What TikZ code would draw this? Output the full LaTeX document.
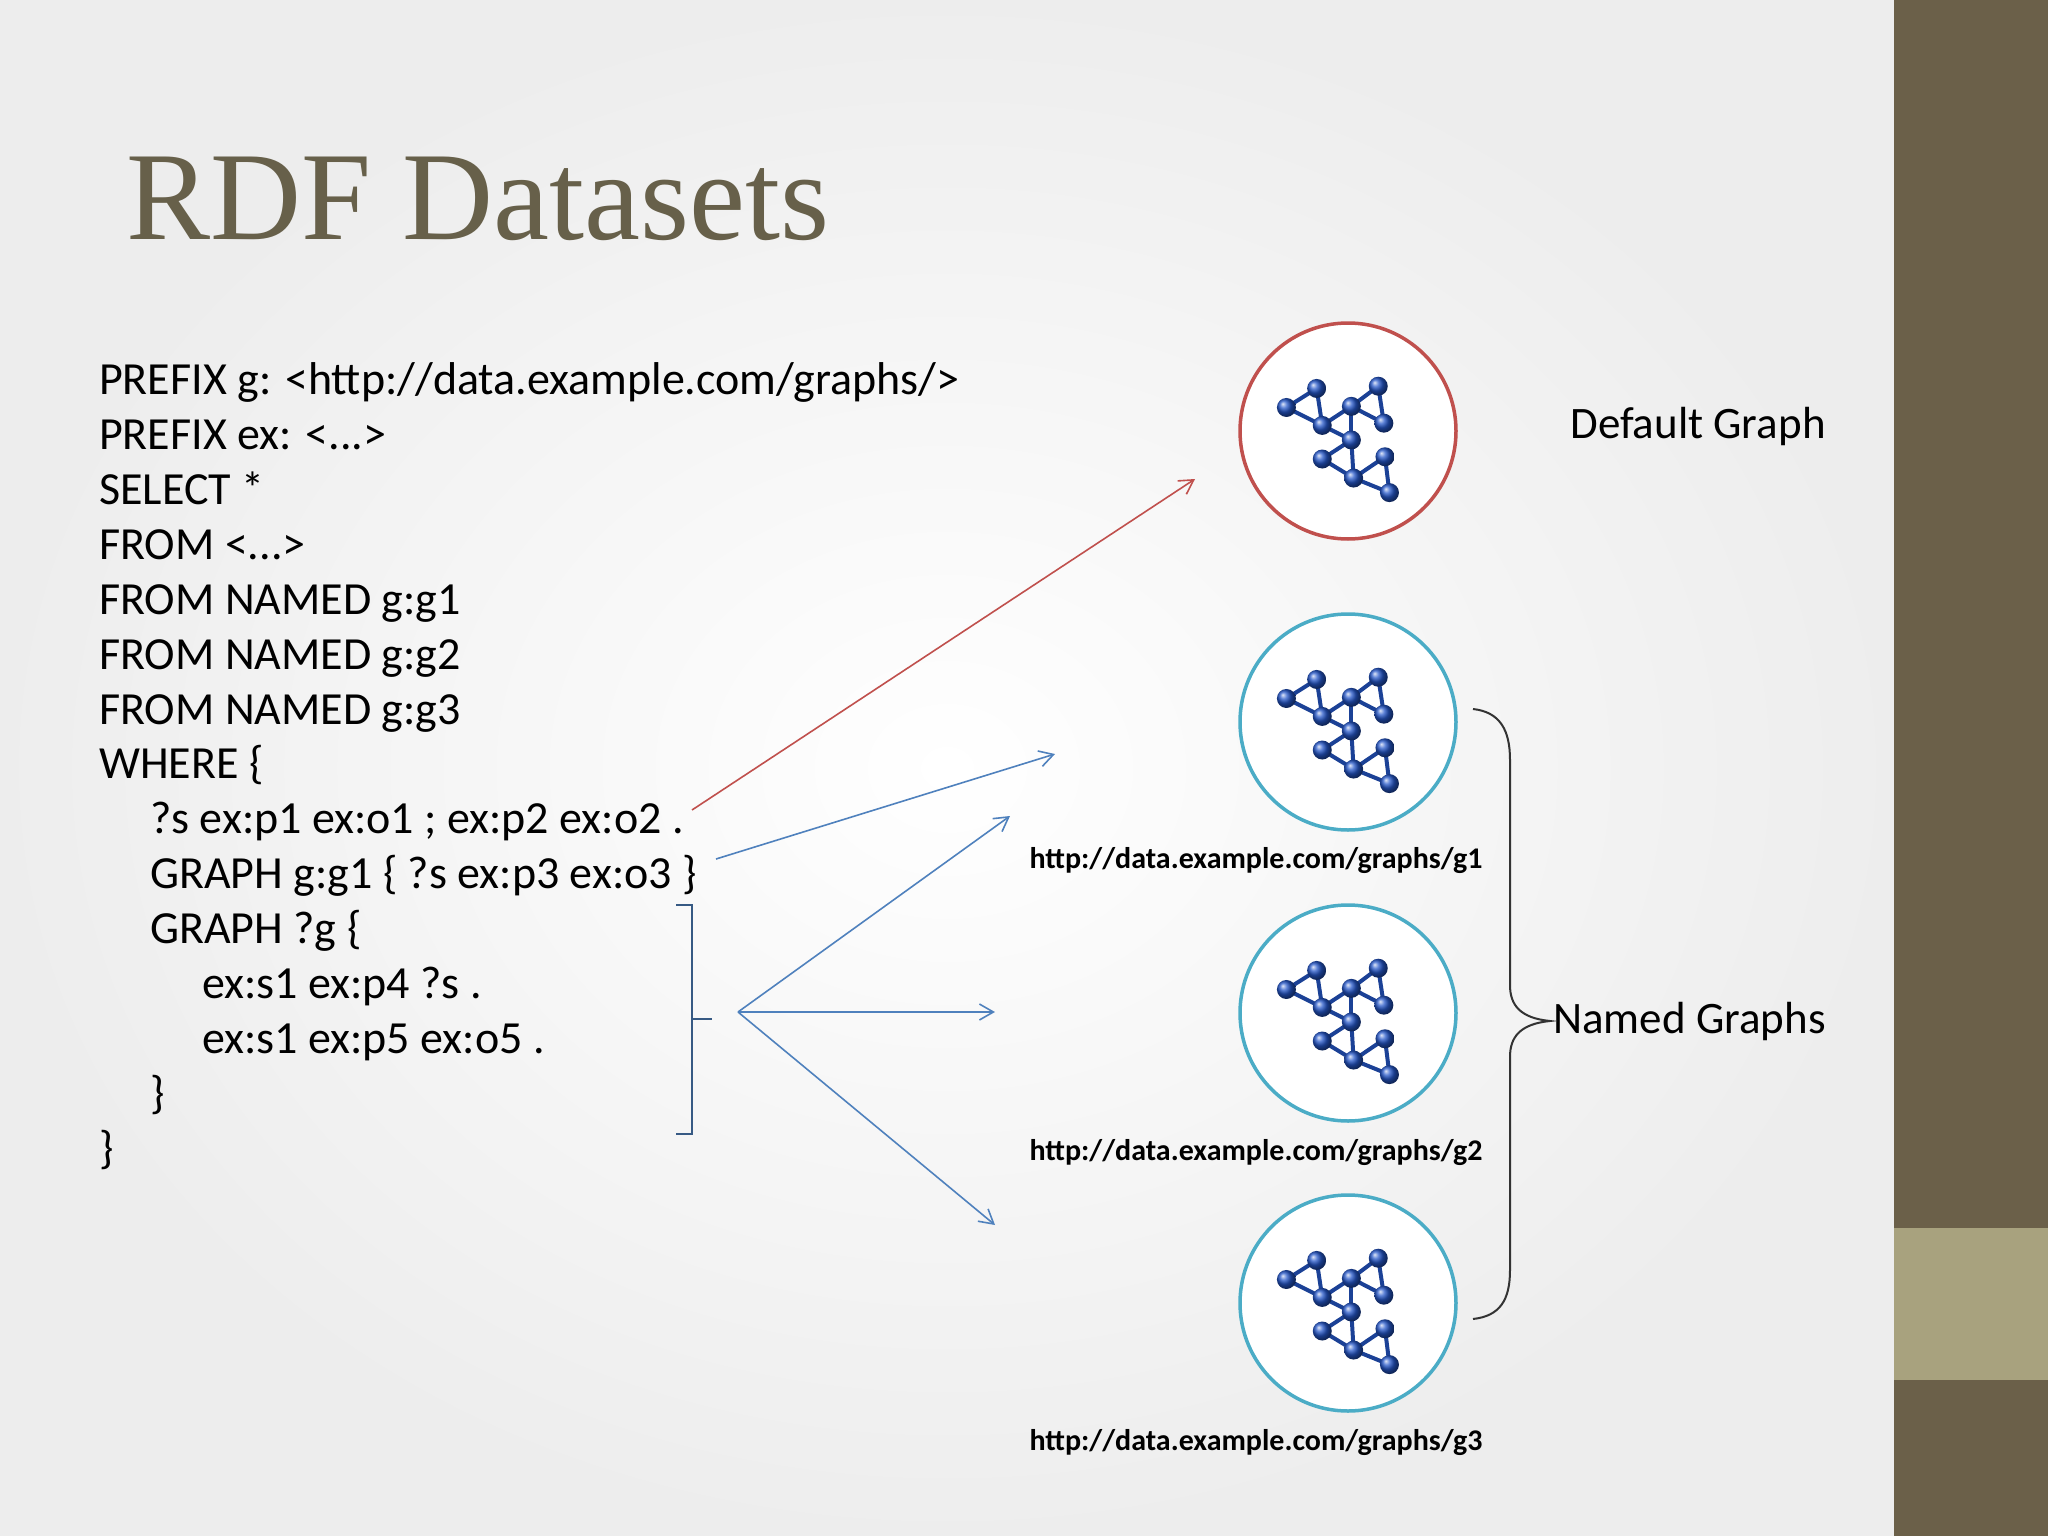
\documentclass[tikz,border=0pt]{standalone}
\usepackage{fontspec}
\setmainfont{Carlito}
\newfontfamily\titlefont{Liberation Serif}
\usetikzlibrary{arrows.meta,calc}
\definecolor{olive}{HTML}{6B6049}
\definecolor{oliveL}{HTML}{A8A27E}
\definecolor{titlec}{HTML}{67604A}
\definecolor{redc}{HTML}{C0504D}
\definecolor{tealc}{HTML}{4BACC6}
\definecolor{arrred}{HTML}{C0504D}
\definecolor{arrblue}{HTML}{4F81BD}
\definecolor{molb}{HTML}{2456C8}
\tikzset{
  code/.style={anchor=base west,font=\fontsize{46}{52}\selectfont,inner sep=0},
  url/.style={anchor=base,font=\bfseries\fontsize{30}{34}\selectfont,inner sep=0},
  lbl/.style={font=\fontsize{45}{50}\selectfont,inner sep=0},
  ring/.style={circle,minimum size=216pt,line width=3.5pt,inner sep=0,fill=white},
  arr/.style={line width=1.6pt,-{Straight Barb[length=14pt,width=16pt]}},
  mol/.pic={
    \foreach \a/\b in {A/B,B/C,A/C,D/E,E/F,D/F,C/G,E/G,C/E,G/H,H/I,G/I,I/J,J/K,I/K}
      \draw[molb!75!black,line width=4pt] (m\a) -- (m\b);
    \foreach \n in {A,B,C,D,E,F,G,H,I,J,K}
      \shade[ball color=molb] (m\n) circle (9.5pt);
  }
}
\begin{document}
\begin{tikzpicture}[x=1pt,y=-1pt]
\useasboundingbox (0,0) rectangle (2048,1536);
\shade[inner color=white,outer color=black!7] (0,0) rectangle (1894,1536);
\fill[olive] (1894,0) rectangle (2048,1536);
\fill[oliveL] (1894,1228) rectangle (2048,1380);
\node[anchor=base west,inner sep=0,text=titlec,font=\titlefont\fontsize{126}{140}\selectfont] (title) at (126,239) {RDF Datasets};
% code
\node[code] (l1) at (99,394) {PREFIX g: <http://data.example.com/graphs/>};
\node[code] (l2) at (99,449) {PREFIX ex: <...>};
\node[code] (l3) at (99,504) {SELECT *};
\node[code] (l4) at (99,559) {FROM <...>};
\node[code] (l5) at (99,614) {FROM NAMED g:g1};
\node[code] (l6) at (99,669) {FROM NAMED g:g2};
\node[code] (l7) at (99,724) {FROM NAMED g:g3};
\node[code] (l8) at (99,778) {WHERE \{};
\node[code] (l9) at (150,833) {?s ex:p1 ex:o1 ; ex:p2 ex:o2 .};
\node[code] (l10) at (150,888) {GRAPH g:g1 \{ ?s ex:p3 ex:o3 \}};
\node[code] (l11) at (150,943) {GRAPH ?g \{};
\node[code] (l12) at (202,998) {ex:s1 ex:p4 ?s .};
\node[code] (l13) at (202,1053) {ex:s1 ex:p5 ex:o5 .};
\node[code] (l14) at (150,1108) {\}};
\node[code] (l15) at (99,1163) {\}};
% circles
\foreach \n/\y/\c in {dg/431/redc,g1/722/tealc,g2/1013/tealc,g3/1303/tealc}{
  \node[ring,draw=\c] (\n) at (1348,\y) {};
  \begin{scope}[shift={(1348,\y)},scale=1.12]
    \coordinate (mA) at (-28,-38); \coordinate (mB) at (-55,-21);
    \coordinate (mC) at (-23,-5);  \coordinate (mD) at (27,-40);
    \coordinate (mE) at (3,-22);   \coordinate (mF) at (32,-7);
    \coordinate (mG) at (3,8);     \coordinate (mH) at (-23,25);
    \coordinate (mI) at (5,42);    \coordinate (mJ) at (33,23);
    \coordinate (mK) at (37,55);
    \pic {mol};
  \end{scope}
}
\node[url] (u1) at (1256,868) {http://data.example.com/graphs/g1};
\node[url] (u2) at (1256,1160) {http://data.example.com/graphs/g2};
\node[url] (u3) at (1256,1450) {http://data.example.com/graphs/g3};
\node[lbl] (dgl) at (1698,426) {Default Graph};
\node[lbl,anchor=west] (ngl) at (1553,1021) {Named Graphs};
% right brace
\coordinate (rbT) at (1473,709);
\coordinate (rbB) at (1473,1319);
\coordinate (rbM) at (1550,1021);
\draw[line width=2pt,black!80] (rbT) .. controls (1500,712) and (1510,730) .. (1510,760)
  -- (1510,985) .. controls (1510,1005) and (1520,1018) .. (rbM)
  .. controls (1520,1024) and (1510,1037) .. (1510,1057)
  -- (1510,1270) .. controls (1510,1300) and (1500,1316) .. (rbB);
% left bracket
\coordinate (lbT) at (676,905);
\coordinate (lbB) at (676,1134);
\coordinate (lbM) at (712,1019);
\draw[line width=2pt,arrblue!70!black] (lbT) -- (692,905) -- (692,1134) -- (lbB);
\draw[line width=2pt,arrblue!70!black] (692,1019) -- (lbM);
% arrows
\coordinate (s1) at (692,810);
\coordinate (e1) at (1195,479);
\coordinate (s2) at (716,859);
\coordinate (e2) at (1055,754);
\coordinate (s3) at (738,1012);
\coordinate (e3) at (1010,816);
\coordinate (e4) at (995,1012);
\coordinate (e5) at (995,1225);
\draw[arr,arrred] (s1) -- (e1);
\draw[arr,arrblue] (s2) -- (e2);
\draw[arr,arrblue] (s3) -- (e3);
\draw[arr,arrblue] (s3) -- (e4);
\draw[arr,arrblue] (s3) -- (e5);
\end{tikzpicture}
\end{document}
